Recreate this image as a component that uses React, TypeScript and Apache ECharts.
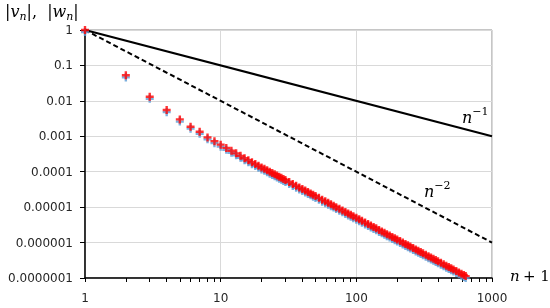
import React, { useEffect, useRef } from "react";
import * as echarts from "echarts";

// x = n + 1
const xVals = [1, 2, 3, 4, 5, 6, 7, 8, 9, 10, 11, 12, 13, 14, 15, 16, 17, 18, 19, 20, 21, 22, 23, 24, 25, 26, 27, 28, 29, 30, 32, 34, 36, 38, 40, 42, 44, 46, 48, 50, 53, 56, 59, 62, 65, 68, 71, 75, 79, 83, 87, 91, 95, 100, 105, 110, 116, 122, 128, 134, 140, 147, 154, 161, 168, 176, 184, 192, 200, 210, 220, 230, 240, 250, 262, 274, 286, 298, 310, 325, 340, 355, 370, 385, 400, 420, 440, 460, 480, 500, 520, 545, 570, 595, 620, 640];
// |v_n| (red)
const vRed = [1, 0.053, 0.013, 0.0055, 0.003, 0.00186, 0.00134, 0.00093, 0.00073, 0.00058, 0.00047, 0.00039, 0.00033, 0.00028, 0.00024, 0.00021, 0.000185, 0.000165, 0.000147, 0.000132,
  1.21e-4, 1.10e-4, 1.0e-4, 9.2e-5, 8.46e-5, 7.8e-5, 7.23e-5, 6.71e-5, 6.25e-5, 5.83e-5, 5.11e-5, 4.52e-5, 4.02e-5, 3.6e-5, 3.24e-5, 2.94e-5, 2.67e-5, 2.44e-5, 2.24e-5, 2.06e-5,
  1.83e-5, 1.63e-5, 1.47e-5, 1.33e-5, 1.2e-5, 1.1e-5, 1.0e-5, 9.0e-6, 8.09e-6, 7.31e-6, 6.64e-6, 6.07e-6, 5.55e-6, 5.0e-6, 4.53e-6, 4.12e-6, 3.69e-6, 3.33e-6, 3.02e-6, 2.75e-6,
  2.52e-6, 2.28e-6, 2.07e-6, 1.89e-6, 1.73e-6, 1.58e-6, 1.44e-6, 1.32e-6, 1.22e-6, 1.10e-6, 1.0e-6, 9.14e-7, 8.38e-7, 7.71e-7, 7.01e-7, 6.4e-7, 5.86e-7, 5.39e-7, 4.97e-7, 4.52e-7,
  4.12e-7, 3.77e-7, 3.47e-7, 3.2e-7, 2.96e-7, 2.68e-7, 2.43e-7, 2.22e-7, 2.04e-7, 1.88e-7, 1.73e-7, 1.57e-7, 1.44e-7, 1.32e-7, 1.21e-7, 1.13e-7];
// |w_n| (blue)
const wBlue = [0.88, 0.046, 0.0114, 0.0048, 0.0026, 0.00164, 0.00118, 0.00082, 0.00064, 0.00051, 0.000414, 0.000343, 0.00029, 0.000246, 0.000211, 0.000185, 0.000163, 0.000145, 0.000129, 0.000116,
  1.065e-4, 9.68e-5, 8.8e-5, 8.1e-5, 7.44e-5, 6.86e-5, 6.36e-5, 5.9e-5, 5.5e-5, 5.13e-5, 4.5e-5, 3.98e-5, 3.54e-5, 3.17e-5, 2.85e-5, 2.59e-5, 2.35e-5, 2.15e-5, 1.97e-5, 1.81e-5,
  1.61e-5, 1.43e-5, 1.29e-5, 1.17e-5, 1.06e-5, 9.7e-6, 8.8e-6, 7.9e-6, 7.12e-6, 6.43e-6, 5.84e-6, 5.34e-6, 4.88e-6, 4.4e-6, 3.99e-6, 3.63e-6, 3.25e-6, 2.93e-6, 2.66e-6, 2.42e-6,
  2.22e-6, 2.0e-6, 1.82e-6, 1.66e-6, 1.52e-6, 1.39e-6, 1.27e-6, 1.16e-6, 1.07e-6, 9.7e-7, 8.8e-7, 8.04e-7, 7.37e-7, 6.78e-7, 6.17e-7, 5.63e-7, 5.16e-7, 4.74e-7, 4.37e-7, 3.98e-7,
  3.63e-7, 3.32e-7, 3.05e-7, 2.82e-7, 2.6e-7, 2.36e-7, 2.14e-7, 1.95e-7, 1.8e-7, 1.65e-7, 1.52e-7, 1.38e-7, 1.27e-7, 1.16e-7, 1.06e-7, 1.0e-7];

// reference lines n^-1 and n^-2
const refX = [1, 1000];
const refN1 = [1, 0.001];
const refN2 = [1, 0.000001];

const xTickLabels = ["1", "10", "100", "1000"];
const xLabelValues = [1, 10, 100, 1000];
const xTickValues = [1, 2, 3, 4, 5, 6, 7, 8, 9, 10, 20, 30, 40, 50, 60, 70, 80, 90, 100, 200, 300, 400, 500, 600, 700, 800, 900, 1000];
const yTickLabels = ["1", "0.1", "0.01", "0.001", "0.0001", "0.00001", "0.000001", "0.0000001"];
const yLabelValues = [1, 0.1, 0.01, 0.001, 0.0001, 0.00001, 0.000001, 0.0000001];

const PLUS = "path://M2.8,0H5.2V2.8H8V5.2H5.2V8H2.8V5.2H0V2.8H2.8Z";
const LABEL_FONT = "DejaVu Sans";
const SERIF = "DejaVu Serif";

export default function App() {
  const ref = useRef<HTMLDivElement>(null);
  useEffect(() => {
    if (!ref.current) return;
    const chart = echarts.init(ref.current, null, { renderer: "svg" });
    const sup = {
      n: { fontFamily: SERIF, fontStyle: "italic", fontSize: 16, lineHeight: 22, verticalAlign: "middle", fill: "#000" },
      s: { fontFamily: SERIF, fontSize: 11, lineHeight: 11, verticalAlign: "top", fill: "#000" },
    };
    chart.setOption({
      animation: false,
      grid: { left: 85, right: 58, top: 30, bottom: 30, show: true, borderColor: "#8C8C8C", borderWidth: 1 },
      xAxis: [
        {
          type: "log",
          logBase: 10,
          min: 1,
          max: 1000,
          splitNumber: 3,
          axisLine: { lineStyle: { color: "#000", width: 1.5 } },
          axisTick: { show: false },
          axisLabel: {
            customValues: xLabelValues,
            margin: 14,
            fontFamily: LABEL_FONT,
            fontSize: 12,
            color: "#262626",
            formatter: (v: number) => xTickLabels[Math.round(Math.log10(v))],
          },
          splitLine: { show: true, lineStyle: { color: "#D9D9D9", width: 1 } },
        },
        {
          type: "log",
          logBase: 10,
          min: 1,
          max: 1000,
          position: "bottom",
          axisLine: { show: false },
          axisTick: { show: true, customValues: xTickValues, length: 4, lineStyle: { color: "#000", width: 1 } },
          axisLabel: { show: false },
          splitLine: { show: false },
        },
      ],
      yAxis: {
        type: "log",
        logBase: 10,
        min: 0.0000001,
        max: 1,
        splitNumber: 7,
        axisLine: { show: true, lineStyle: { color: "#000", width: 1.5 } },
        axisTick: { show: true, customValues: yLabelValues, length: 5, lineStyle: { color: "#000", width: 1 } },
        axisLabel: {
          customValues: yLabelValues,
          margin: 12,
          fontFamily: LABEL_FONT,
          fontSize: 12,
          color: "#262626",
          formatter: (v: number) => yTickLabels[Math.round(-Math.log10(v))],
        },
        splitLine: { show: true, lineStyle: { color: "#D9D9D9", width: 1 } },
      },
      series: [
        {
          type: "line",
          data: refX.map((x, i) => [x, refN1[i]]),
          showSymbol: false,
          lineStyle: { color: "#000", width: 2 },
          z: 3,
        },
        {
          type: "line",
          data: refX.map((x, i) => [x, refN2[i]]),
          showSymbol: false,
          lineStyle: { color: "#000", width: 2, type: [5, 3] },
          z: 3,
        },
        {
          type: "scatter",
          data: xVals.map((x, i) => [x, wBlue[i]]),
          symbol: PLUS,
          symbolSize: 8,
          itemStyle: { color: "#5B9BD5" },
          z: 4,
        },
        {
          type: "scatter",
          data: xVals.map((x, i) => [x, vRed[i]]),
          symbol: PLUS,
          symbolSize: 8,
          itemStyle: { color: "#FF0000" },
          z: 5,
        },
      ],
      graphic: [
        {
          type: "text",
          left: 5,
          top: 3,
          style: {
            text: "{a||}{i|v}{b|n}{a||,  |}{i|w}{b|n}{a||}",
            rich: {
              a: { fontFamily: SERIF, fontSize: 16, lineHeight: 22, verticalAlign: "middle", fill: "#000" },
              i: { fontFamily: SERIF, fontStyle: "italic", fontSize: 16, lineHeight: 22, verticalAlign: "middle", fill: "#000" },
              b: { fontFamily: SERIF, fontStyle: "italic", fontSize: 11, lineHeight: 11, verticalAlign: "bottom", fill: "#000" },
            },
          },
        },
        {
          type: "text",
          x: 462,
          y: 106,
          style: { text: "{n|n}{s|−1}", rich: sup },
        },
        {
          type: "text",
          x: 424,
          y: 180,
          style: { text: "{n|n}{s|−2}", rich: sup },
        },
        {
          type: "text",
          x: 510,
          y: 268,
          style: {
            text: "{i|n} {a|+ 1}",
            rich: {
              i: { fontFamily: SERIF, fontStyle: "italic", fontSize: 15, fill: "#000" },
              a: { fontFamily: SERIF, fontSize: 15, fill: "#000" },
            },
          },
        },
      ],
    });
    return () => chart.dispose();
  }, []);
  return <div ref={ref} style={{ position: "fixed", left: 0, top: 0, width: 550, height: 308 }} />;
}
